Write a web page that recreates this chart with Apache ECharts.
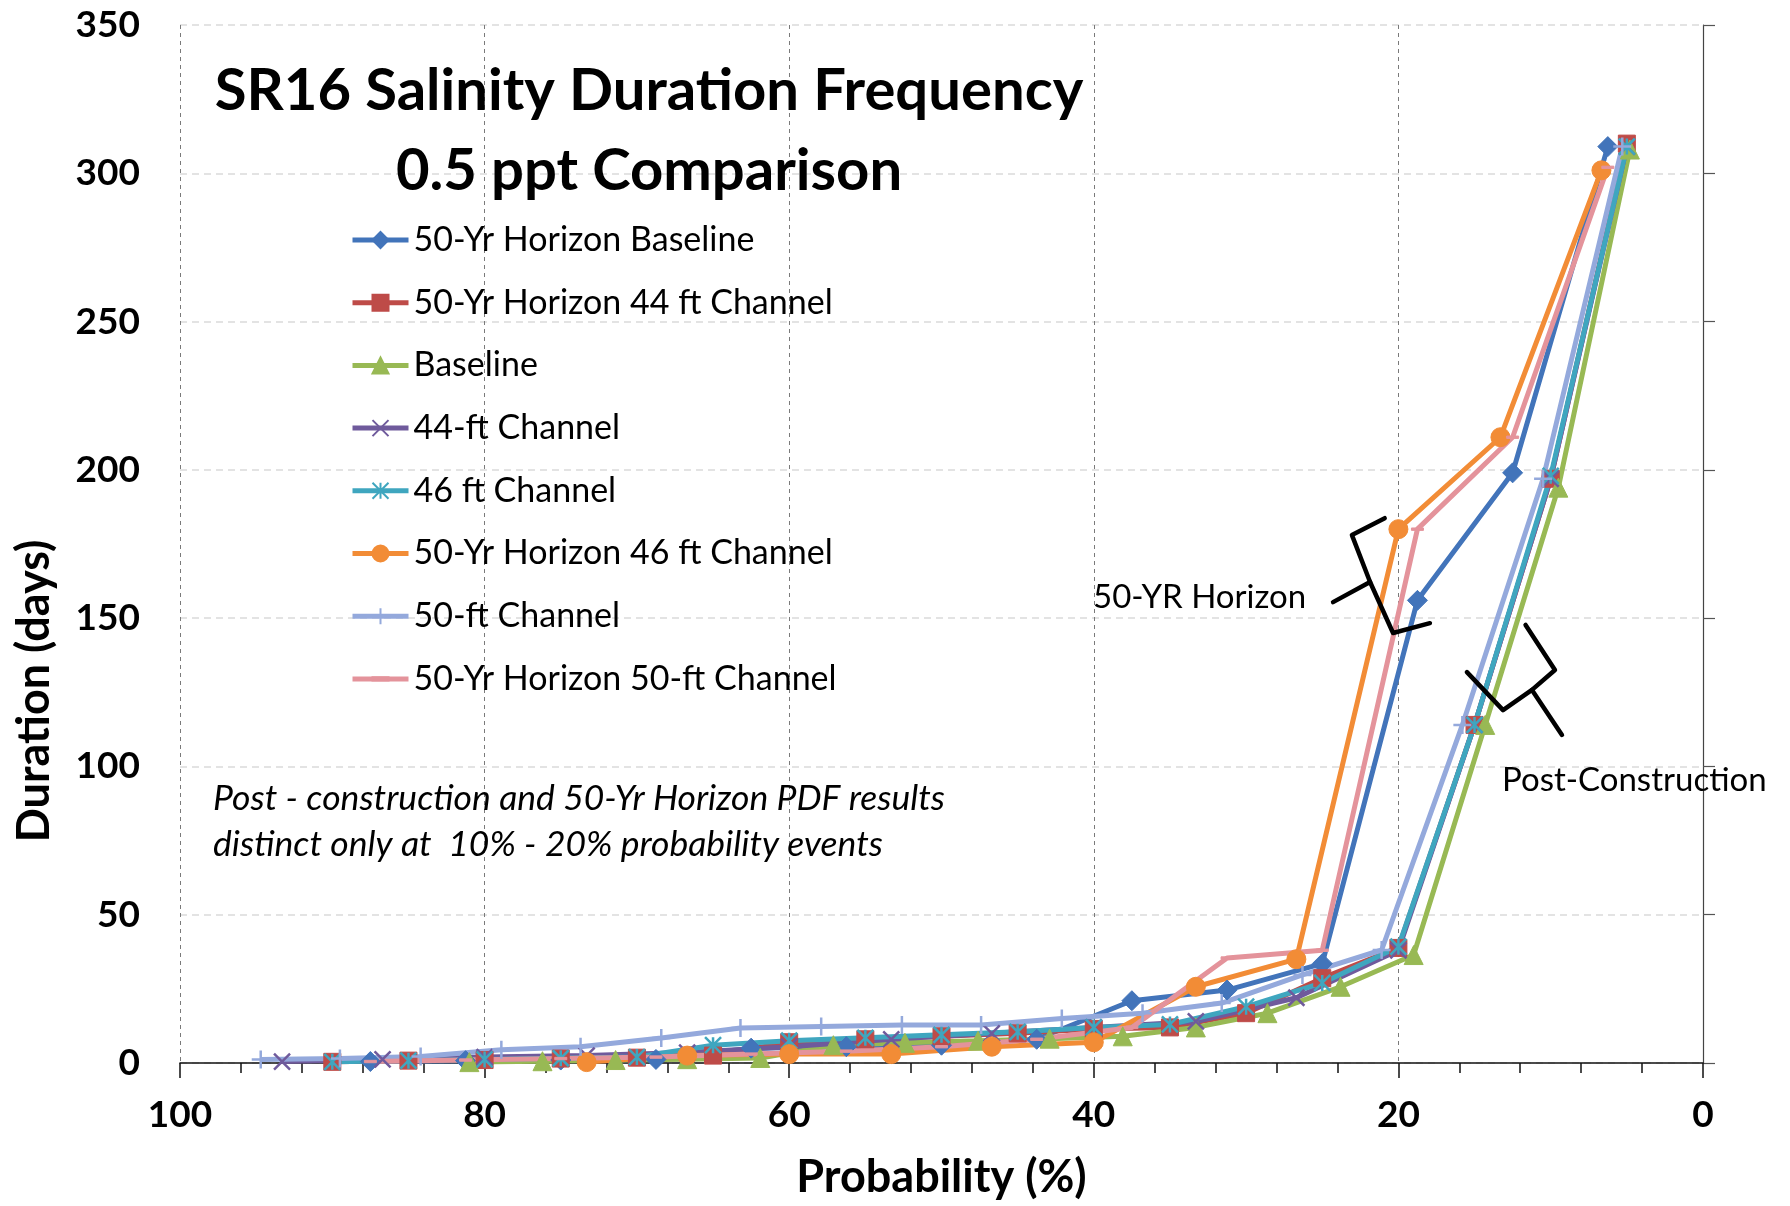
<!DOCTYPE html>
<html>
<head>
<meta charset="utf-8">
<title>SR16 Salinity Duration Frequency</title>
<script src="https://cdn.jsdelivr.net/npm/echarts@6/dist/echarts.min.js"></script>
<style>
  html, body { margin: 0; padding: 0; background: #ffffff; }
  #chart { width: 1790px; height: 1206px; }
</style>
</head>
<body>
<div id="chart"></div>
<script>
// Exceedance probability (%) and duration (days) for each scenario
const probHorizonBaseline = [87.5, 81.25, 75, 68.75, 62.5, 56.25, 50, 43.75, 37.5, 31.25, 25, 18.75, 12.5, 6.25];
const daysHorizonBaseline = [0.5, 0.8, 1, 1.2, 5, 5.5, 6, 8, 21, 24.6, 33.5, 156, 199, 309];

const probHorizon44 = [90, 85, 80, 75, 70, 65, 60, 55, 50, 45, 40, 35, 30, 25, 20, 15, 10, 5];
const daysHorizon44 = [0.4, 0.8, 1.0, 1.5, 1.8, 2.5, 7, 8, 9, 10, 11.5, 12, 16.8, 28.6, 38.8, 114, 197, 310];

const probBaseline = [81.0, 76.2, 71.4, 66.7, 61.9, 57.1, 52.4, 47.6, 42.9, 38.1, 33.3, 28.6, 23.8, 19.0, 14.3, 9.5, 4.8];
const daysBaseline = [0.3, 0.6, 1, 1.3, 1.7, 6, 6.8, 7.5, 8.2, 9, 12, 16.8, 25.7, 36.4, 114, 194, 308];

const prob44 = [93.3, 86.7, 80, 73.3, 66.7, 60, 53.3, 46.7, 40, 33.3, 26.7, 20, 15, 10, 5];
const days44 = [0.5, 1.2, 2, 2.5, 3.5, 5.5, 8, 10, 12, 14, 22, 38, 114, 197, 309];

const prob46 = [90, 85, 80, 75, 70, 65, 60, 55, 50, 45, 40, 35, 30, 25, 20, 15, 10, 5];
const days46 = [0.4, 0.8, 1.2, 1.6, 2, 6, 7.5, 8.5, 9.5, 10.5, 12, 13, 19, 27, 39.2, 114, 198, 309];

const probHorizon46 = [73.3, 66.7, 60, 53.3, 46.7, 40, 33.3, 26.7, 20, 13.3, 6.67];
const daysHorizon46 = [0.3, 2.5, 3, 3, 5.5, 7, 25.7, 35, 180, 211, 301];

const prob50 = [94.7, 89.5, 84.2, 78.9, 73.7, 68.4, 63.2, 57.9, 52.6, 47.4, 42.1, 36.8, 31.6, 26.3, 21.1, 15.8, 10.5, 5.3];
const days50 = [1.2, 1.5, 2.2, 4.5, 5.5, 8.4, 11.8, 12.3, 12.8, 12.8, 15, 16.8, 20.2, 29.7, 38.1, 114, 197, 309];

const probHorizon50 = [87.5, 81.25, 75, 68.75, 62.5, 56.25, 50, 43.75, 37.5, 31.25, 25, 18.75, 12.5, 6.25];
const daysHorizon50 = [0.5, 1, 1.5, 2, 3, 4, 5.5, 8, 12, 35.4, 38, 180, 211, 302];

// Axis ticks
const xTicks = [100, 80, 60, 40, 20, 0];
const yTicks = [0, 50, 100, 150, 200, 250, 300, 350];

// Curly-brace annotations, given as (probability %, days) vertices
const braceHorizon = [[20.9, 183.7], [23.05, 178.0], [21.86, 162.2], [20.35, 145.0], [17.93, 148.3]];
const braceHorizonTip = [[21.86, 162.2], [24.29, 155.4]];
const braceConstruction = [[11.65, 147.7], [9.72, 132.5], [11.23, 125.8], [13.13, 119.0], [15.5, 131.8]];
const braceConstructionTip = [[11.23, 125.8], [9.26, 110.6]];

const FONT = 'Lato, "Open Sans", sans-serif';

function pairs(xs, ys) { return xs.map((x, i) => [x, ys[i]]); }

// Marker outlines; the moveTo corners keep each box square
const SYM_X = 'path://M0,0L10,10M10,0L0,10';
const SYM_STAR = 'path://M5,0L5,10M0,0L10,10M10,0L0,10';
const SYM_PLUS = 'path://M5,0L5,10M0,5L10,5';
const SYM_DASH = 'path://M0,0M10,10M0,4L10,4L10,6L0,6Z';

function lineSeries(name, xs, ys, color, symbol, size, stroked) {
  return {
    name: name,
    type: 'line',
    data: pairs(xs, ys),
    symbol: symbol,
    symbolSize: size,
    showAllSymbol: true,
    lineStyle: { color: color, width: 5 },
    itemStyle: stroked
      ? { color: color, borderColor: color, borderWidth: 2.5 }
      : { color: color, borderColor: color, borderWidth: 1 },
    emphasis: { disabled: true },
    animation: false
  };
}

const series = [
  lineSeries('50-Yr Horizon Baseline', probHorizonBaseline, daysHorizonBaseline, '#4274ba', 'diamond', 20, false),
  lineSeries('50-Yr Horizon 44 ft Channel', probHorizon44, daysHorizon44, '#be4b48', 'rect', 17, false),
  lineSeries('Baseline', probBaseline, daysBaseline, '#98b954', 'triangle', 19, false),
  lineSeries('44-ft Channel', prob44, days44, '#6f5a9c', SYM_X, 16, true),
  lineSeries('46 ft Channel', prob46, days46, '#3fa6bf', SYM_STAR, 16, true),
  lineSeries('50-Yr Horizon 46 ft Channel', probHorizon46, daysHorizon46, '#f28c36', 'circle', 19, false),
  lineSeries('50-ft Channel', prob50, days50, '#94a9dc', SYM_PLUS, 18, true),
  lineSeries('50-Yr Horizon 50-ft Channel', probHorizon50, daysHorizon50, '#e4939b', SYM_DASH, 12, false)
];

const chart = echarts.init(document.getElementById('chart'), null, { renderer: 'canvas' });

const option = {
  backgroundColor: '#ffffff',
  animation: false,
  grid: { left: 180, right: 87, top: 25, bottom: 143 },
  legend: {
    orient: 'vertical',
    left: 350,
    top: 220,
    padding: 0,
    itemWidth: 56,
    itemHeight: 20,
    itemGap: 22.7,
    selectedMode: false,
    lineStyle: { width: 5 },
    textStyle: { fontFamily: FONT, fontSize: 34, color: '#000', lineHeight: 40 },
    data: series.map(s => s.name)
  },
  xAxis: [
    {
      type: 'value',
      inverse: true,
      min: xTicks[xTicks.length - 1],
      max: xTicks[0],
      interval: 20,
      axisLine: { onZero: false, lineStyle: { color: '#111', width: 1.5 } },
      axisTick: { length: 15, lineStyle: { color: '#111', width: 1.5 } },
      axisLabel: { margin: 34, fontFamily: FONT, fontSize: 37, fontWeight: 'bold', color: '#000' },
      splitLine: { show: true, lineStyle: { color: '#7a7a7a', width: 1, type: [4, 4] } },
      name: 'Probability (%)',
      nameLocation: 'middle',
      nameGap: 92,
      nameTextStyle: { fontFamily: FONT, fontSize: 45, fontWeight: 'bold', color: '#000' }
    },
    {
      type: 'value',
      inverse: true,
      min: 0,
      max: 100,
      interval: 4,
      axisLine: { show: false },
      axisTick: { inside: true, length: 10, lineStyle: { color: '#111', width: 1.5 } },
      axisLabel: { show: false },
      splitLine: { show: false }
    }
  ],
  yAxis: {
    type: 'value',
    min: yTicks[0],
    max: yTicks[yTicks.length - 1],
    interval: 50,
    axisLine: { show: true, lineStyle: { color: '#444', width: 1.2 } },
    axisTick: { show: true, inside: true, length: 12, lineStyle: { color: '#555', width: 1.2 } },
    axisLabel: { margin: 40, fontFamily: FONT, fontSize: 37, fontWeight: 'bold', color: '#000' },
    splitLine: { show: true, lineStyle: { color: '#dadada', width: 1.5, type: [7, 5] } }
  },
  series: series
};

chart.setOption(option);

// Free text and brace annotations
function toPx(pts) {
  return pts.map(p => chart.convertToPixel({ xAxisIndex: 0, yAxisIndex: 0 }, p));
}
function brace(pts) {
  return {
    type: 'polyline',
    shape: { points: toPx(pts) },
    style: { stroke: '#000', lineWidth: 4.5, fill: null, lineJoin: 'round', lineCap: 'round' },
    silent: true,
    z: 100
  };
}
function label(text, x, y, size, weight, styleName, align) {
  return {
    type: 'text',
    x: x, y: y,
    silent: true,
    z: 100,
    style: {
      text: text,
      fontFamily: FONT,
      fontSize: size,
      fontWeight: weight,
      fontStyle: styleName,
      fill: '#000',
      align: align,
      verticalAlign: 'middle'
    }
  };
}

chart.setOption({
  graphic: [
    label('SR16 Salinity Duration Frequency', 649, 91, 58, 'bold', 'normal', 'center'),
    label('0.5 ppt Comparison', 649, 171, 58, 'bold', 'normal', 'center'),
    label('Post - construction and 50-Yr Horizon PDF results', 213, 799, 35.5, 'normal', 'italic', 'left'),
    label('distinct only at  10% - 20% probability events', 213, 845, 35.5, 'normal', 'italic', 'left'),
    label('50-YR Horizon', 1093, 597, 33, 'normal', 'normal', 'left'),
    label('Post-Construction', 1502, 780, 33, 'normal', 'normal', 'left'),
    {
      type: 'text',
      x: 34, y: 691,
      rotation: Math.PI / 2,
      silent: true,
      style: {
        text: 'Duration (days)',
        fontFamily: FONT, fontSize: 45, fontWeight: 'bold', fill: '#000',
        align: 'center', verticalAlign: 'middle'
      }
    },
    brace(braceHorizon),
    brace(braceHorizonTip),
    brace(braceConstruction),
    brace(braceConstructionTip)
  ]
});
</script>
</body>
</html>
